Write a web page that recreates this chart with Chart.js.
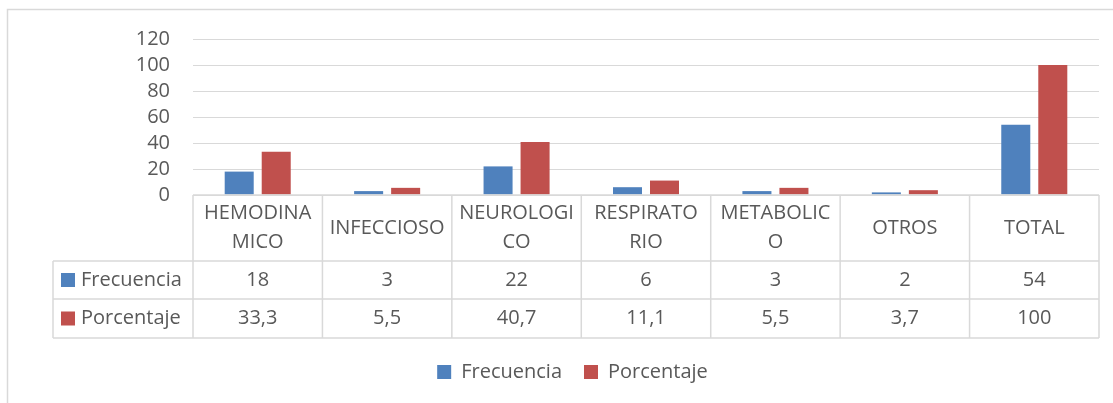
<!DOCTYPE html>
<html>
  <head>
    <meta charset="UTF-8">
    <title></title>
    <script src="https://cdn.jsdelivr.net/npm/chart.js@4"></script>
    <style>
      html, body { margin: 0; padding: 0; background: #ffffff; }
      #container { width: 1113px; height: 403px; }
    </style>
  </head>
  <body>
    <div id="container">
      <canvas id="barChart"></canvas>
    </div>
  </body>
  <script>
    const categories = ['HEMODINAMICO', 'INFECCIOSO', 'NEUROLOGICO', 'RESPIRATORIO', 'METABOLICO', 'OTROS', 'TOTAL'];
    const categoryLines = [['HEMODINA', 'MICO'], ['INFECCIOSO'], ['NEUROLOGI', 'CO'], ['RESPIRATO', 'RIO'], ['METABOLIC', 'O'], ['OTROS'], ['TOTAL']];
    const frecuencia = [18, 3, 22, 6, 3, 2, 54];
    const porcentaje = [33.3, 5.5, 40.7, 11.1, 5.5, 3.7, 100];
    const yTicks = [0, 20, 40, 60, 80, 100, 120];

    const textColor = '#595959';
    const lineColor = '#d9d9d9';
    const fontFamily = '"Open Sans", sans-serif';
    const fontSize = 20;

    function fmt(v) {
      return String(v).replace('.', ',');
    }

    // draws the frame and the data table under the bars
    const dataTable = {
      id: 'dataTable',
      beforeDraw(chart) {
        const ctx = chart.ctx;
        ctx.save();
        ctx.strokeStyle = lineColor;
        ctx.lineWidth = 1.5;
        ctx.beginPath();
        ctx.moveTo(7.5, chart.height);
        ctx.lineTo(7.5, 9.5);
        ctx.lineTo(chart.width, 9.5);
        ctx.stroke();
        ctx.restore();
      },
      afterDraw(chart) {
        const ctx = chart.ctx;
        const x = chart.scales.x;
        const n = categories.length;
        const half = (x.right - x.left) / n / 2;
        const top = chart.chartArea.bottom;
        const r1 = top + 66, r2 = r1 + 38, r3 = r2 + 39;
        const tableLeft = 53;
        const series = chart.data.datasets;

        ctx.save();
        ctx.strokeStyle = lineColor;
        ctx.lineWidth = 1.5;
        ctx.beginPath();
        ctx.moveTo(x.left, top); ctx.lineTo(x.right, top);
        [r1, r2, r3].forEach(y => { ctx.moveTo(tableLeft, y); ctx.lineTo(x.right, y); });
        ctx.moveTo(tableLeft, r1); ctx.lineTo(tableLeft, r3);
        for (let i = 0; i <= n; i++) {
          const px = x.getPixelForValue(0) - half + i * half * 2;
          ctx.moveTo(px, top); ctx.lineTo(px, r3);
        }
        ctx.stroke();

        ctx.fillStyle = textColor;
        ctx.font = fontSize + 'px ' + fontFamily;
        ctx.textAlign = 'center';
        ctx.textBaseline = 'middle';
        const catMid = (top + r1) / 2;
        for (let i = 0; i < n; i++) {
          const cx = x.getPixelForValue(i);
          const lines = categoryLines[i];
          lines.forEach((t, k) => {
            ctx.fillText(t, cx, catMid + (k - (lines.length - 1) / 2) * 29);
          });
          ctx.fillText(fmt(series[0].data[i]), cx, (r1 + r2) / 2);
          ctx.fillText(fmt(series[1].data[i]), cx, (r2 + r3) / 2);
        }

        ctx.textAlign = 'left';
        [[r1, r2], [r2, r3]].forEach((rows, k) => {
          const cy = (rows[0] + rows[1]) / 2;
          ctx.fillStyle = series[k].backgroundColor;
          ctx.fillRect(61, cy - 7, 14, 14);
          ctx.fillStyle = textColor;
          ctx.fillText(series[k].label, 81, cy);
        });
        ctx.restore();
      }
    };

    const ctx = document.getElementById('barChart').getContext('2d');
    const barChart = new Chart(ctx, {
      type: 'bar',
      data: {
        labels: categories,
        datasets: [{
          label: 'Frecuencia',
          data: frecuencia,
          backgroundColor: '#4f81bd'
        }, {
          label: 'Porcentaje',
          data: porcentaje,
          backgroundColor: '#c0504d'
        }]
      },
      options: {
        responsive: true,
        maintainAspectRatio: false,
        animation: false,
        categoryPercentage: 0.572,
        barPercentage: 0.784,
        layout: {
          padding: { left: 46, right: 14, top: 39, bottom: 11 }
        },
        plugins: {
          tooltip: { enabled: false },
          legend: {
            position: 'bottom',
            labels: {
              color: textColor,
              font: { family: fontFamily, size: fontSize },
              boxWidth: 14,
              boxHeight: 14,
              padding: 22
            }
          }
        },
        scales: {
          x: {
            ticks: { display: false },
            grid: { display: false },
            border: { display: false },
            afterFit(scale) { scale.height = 145; }
          },
          y: {
            min: 0,
            max: 120,
            afterBuildTicks(scale) { scale.ticks = yTicks.map(v => ({ value: v })); },
            ticks: {
              color: textColor,
              font: { family: fontFamily, size: fontSize },
              padding: 23,
              autoSkip: false
            },
            grid: { color: lineColor, lineWidth: 1, drawTicks: false },
            border: { display: false },
            afterFit(scale) { scale.width = 147; }
          }
        }
      },
      plugins: [dataTable]
    });
  </script>
</html>
